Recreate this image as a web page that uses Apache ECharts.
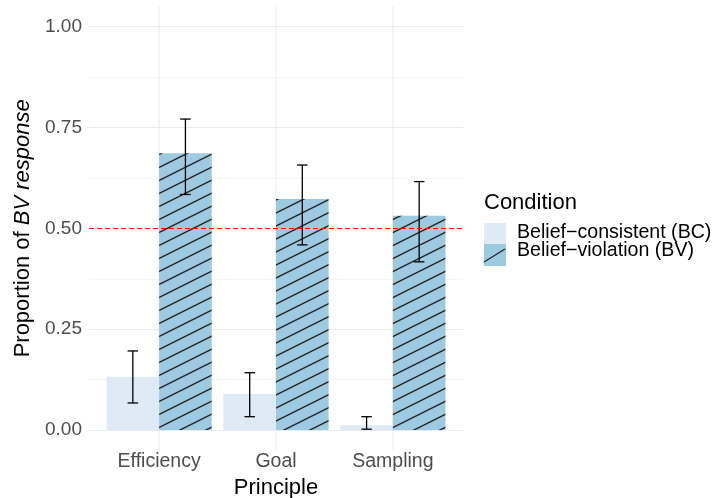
<!DOCTYPE html>
<html><head><meta charset="utf-8">
<script src="https://cdn.jsdelivr.net/npm/echarts@6/dist/echarts.min.js"></script>
<style>html,body{margin:0;padding:0;background:#fff}#c{width:712px;height:498px}</style>
</head><body><div id="c"></div>
<script>
const categories = ['Efficiency', 'Goal', 'Sampling'];
const conditions = ['Belief\u2212consistent (BC)', 'Belief\u2212violation (BV)'];
const legendTitle = 'Condition';
const xTitle = 'Principle';
const bcMean = [0.132, 0.089, 0.012];
const bcLow  = [0.067, 0.033, 0.002];
const bcHigh = [0.196, 0.142, 0.033];
const bvMean = [0.686, 0.573, 0.531];
const bvLow  = [0.584, 0.459, 0.417];
const bvHigh = [0.771, 0.657, 0.616];
const yTicks = [0, 0.25, 0.5, 0.75, 1];
const chanceLevel = 0.5;

const FONT = 'Liberation Sans, Arial, Helvetica, sans-serif';
const BC_COLOR = '#deebf7';
const BV_COLOR = '#9ecae1';
const HATCH = '#222222';

// hatch pattern
const pc = document.createElement('canvas');
pc.width = 52; pc.height = 13;
const pctx = pc.getContext('2d');
pctx.fillStyle = BV_COLOR; pctx.fillRect(0, 0, 52, 13);
pctx.strokeStyle = HATCH; pctx.lineWidth = 1.4;
for (const y0 of [0, 13, 26, 39]) { pctx.beginPath(); pctx.moveTo(0, y0); pctx.lineTo(52, y0 - 26); pctx.stroke(); }
const pattern = { image: pc, repeat: 'repeat' };

const rows = [];
categories.forEach((c, i) => {
  rows.push([i + 1, bcMean[i], bcLow[i], bcHigh[i], 0]);
  rows.push([i + 1, bvMean[i], bvLow[i], bvHigh[i], 1]);
});

function renderBar(params, api) {
  const x = api.value(0), v = api.value(1), lo = api.value(2), hi = api.value(3), g = api.value(4);
  const dodge = 0.45;
  const x0 = g === 0 ? x - dodge : x;
  const x1 = g === 0 ? x : x + dodge;
  const p0 = api.coord([x0, v]);
  const p1 = api.coord([x1, 0]);
  const xc = (x0 + x1) / 2;
  const cw = 0.045;
  const eT = api.coord([xc, hi]);
  const eB = api.coord([xc, lo]);
  const cL = api.coord([xc - cw, hi])[0];
  const cR = api.coord([xc + cw, hi])[0];
  const es = { stroke: '#000', lineWidth: 1.3 };
  return { type: 'group', children: [
    { type: 'rect', shape: { x: p0[0], y: p0[1], width: p1[0] - p0[0], height: p1[1] - p0[1] },
      style: { fill: g === 0 ? BC_COLOR : pattern } },
    { type: 'line', shape: { x1: eT[0], y1: eT[1], x2: eB[0], y2: eB[1] }, style: es },
    { type: 'line', shape: { x1: cL, y1: eT[1], x2: cR, y2: eT[1] }, style: es },
    { type: 'line', shape: { x1: cL, y1: eB[1], x2: cR, y2: eB[1] }, style: es }
  ]};
}

function renderVGrid(params, api) {
  const x = api.value(0);
  const a = api.coord([x, -0.05]);
  const b = api.coord([x, 1.05]);
  return { type: 'line', shape: { x1: a[0], y1: a[1], x2: b[0], y2: b[1] }, style: { stroke: '#ebebeb', lineWidth: 1.1 } };
}

const chart = echarts.init(document.getElementById('c'), null, { renderer: 'canvas' });
chart.setOption({
  animation: false,
  backgroundColor: '#fff',
  grid: { left: 89, right: 249, top: 26.7, bottom: 68, outerBoundsMode: 'none', containLabel: false },
  xAxis: {
    type: 'value', min: 0.4, max: 3.6,
    axisLine: { show: false }, axisTick: { show: false }, splitLine: { show: false },
    axisLabel: {
      customValues: [1, 2, 3],
      formatter: v => categories[Math.round(v) - 1] || '',
      color: '#4d4d4d', fontSize: 19.5, fontFamily: FONT, margin: 22
    },
    name: xTitle, nameLocation: 'middle', nameGap: 46,
    nameTextStyle: { color: '#000', fontSize: 22, fontFamily: FONT }
  },
  yAxis: {
    type: 'value', min: 0, max: 1, interval: 0.25,
    axisLine: { show: false }, axisTick: { show: false },
    axisLabel: { formatter: v => v.toFixed(2), color: '#4d4d4d', fontSize: 19, fontFamily: FONT, margin: 7 },
    splitLine: { show: true, lineStyle: { color: '#ebebeb', width: 1.1 } },
    minorTick: { show: false, splitNumber: 2 },
    minorSplitLine: { show: true, lineStyle: { color: '#f2f2f2', width: 0.8 } },
    name: 'Proportion of {i|BV response}', nameLocation: 'middle', nameRotate: 90, nameGap: 52,
    nameTextStyle: { color: '#000', fontSize: 22, fontFamily: FONT,
      rich: { i: { fontStyle: 'italic', color: '#000', fontSize: 22, fontFamily: FONT } } }
  },
  series: [
    { type: 'custom', z: 1, silent: true, data: categories.map((c, i) => [i + 1]), renderItem: renderVGrid },
    { type: 'custom', z: 2, data: rows, renderItem: renderBar,
      markLine: { silent: true, symbol: 'none', z: 5, label: { show: false },
        lineStyle: { color: '#ff0000', type: [5, 3], width: 1.2 },
        data: [{ yAxis: chanceLevel }] } }
  ],
  graphic: [
    { type: 'text', x: 484, y: 203, style: { text: legendTitle, font: '22px ' + FONT, fill: '#000', verticalAlign: 'middle' } },
    { type: 'rect', shape: { x: 484, y: 223, width: 22, height: 21 }, style: { fill: BC_COLOR } },
    { type: 'rect', shape: { x: 484, y: 244, width: 22, height: 22 }, style: { fill: BV_COLOR } },
    { type: 'line', shape: { x1: 484, y1: 262, x2: 505, y2: 249 }, style: { stroke: HATCH, lineWidth: 1.3 } },
    { type: 'text', x: 517, y: 233, style: { text: conditions[0], font: '19.6px ' + FONT, fill: '#000', verticalAlign: 'middle' } },
    { type: 'text', x: 517, y: 251, style: { text: conditions[1], font: '19.6px ' + FONT, fill: '#000', verticalAlign: 'middle' } }
  ]
});
</script></body></html>
